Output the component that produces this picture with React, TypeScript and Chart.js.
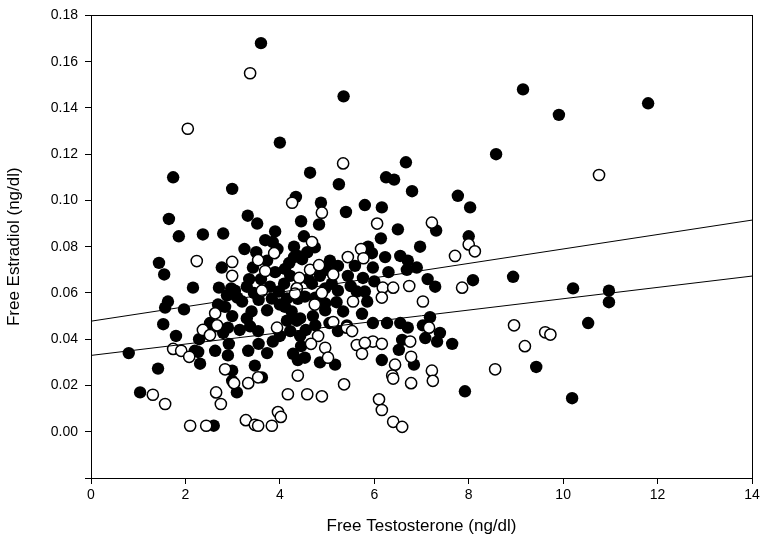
import React, { useEffect, useRef } from "react";
import { Chart, registerables } from "chart.js";

Chart.register(...registerables);

// Filled circles: [free testosterone, free estradiol]
const filledPoints: [number, number][] = [
  [3.6, 0.168], [5.35, 0.145], [4.0, 0.125], [9.15, 0.148], [9.91, 0.137], [11.8, 0.142],
  [8.58, 0.12], [8.94, 0.067], [10.21, 0.062], [10.97, 0.061], [10.97, 0.056], [10.53, 0.047],
  [9.43, 0.028], [10.19, 0.0145], [7.92, 0.0175],
  [1.74, 0.11], [1.65, 0.092], [1.86, 0.0845], [2.37, 0.0853], [2.8, 0.0857], [2.99, 0.105],
  [1.44, 0.073], [1.55, 0.068], [2.77, 0.071],
  [4.64, 0.112], [5.25, 0.107], [4.34, 0.1015], [4.87, 0.099], [5.4, 0.095], [5.8, 0.098],
  [3.32, 0.0934], [3.52, 0.09], [4.45, 0.091], [4.83, 0.0896], [3.9, 0.0866], [3.69, 0.0828],
  [3.85, 0.082], [4.51, 0.0845], [4.3, 0.08], [4.74, 0.0797], [3.5, 0.0776], [4.38, 0.076],
  [5.06, 0.074], [3.43, 0.071], [4.11, 0.0704],
  [6.67, 0.1165], [6.25, 0.11], [6.42, 0.109], [6.8, 0.104], [7.77, 0.102], [8.03, 0.097],
  [6.16, 0.097], [7.31, 0.087], [6.5, 0.0875], [6.14, 0.0836], [6.97, 0.08], [8.0, 0.0845],
  [5.95, 0.0772], [6.23, 0.0755], [6.55, 0.076], [5.97, 0.071], [6.71, 0.074], [6.69, 0.07],
  [6.9, 0.071], [5.76, 0.0665], [7.13, 0.066], [8.09, 0.0655],
  [2.16, 0.0623], [2.71, 0.0623], [1.63, 0.0563], [1.57, 0.0537], [1.97, 0.0529], [2.69, 0.055],
  [1.53, 0.0465], [1.8, 0.0414], [2.29, 0.04], [0.8, 0.034], [1.42, 0.0273], [1.04, 0.017],
  [2.6, 0.0026], [2.31, 0.0294], [2.27, 0.0345], [2.63, 0.035], [2.52, 0.047], [2.67, 0.0456],
  [2.8, 0.0427],
  [2.99, 0.05], [3.73, 0.0525], [4.11, 0.054], [4.96, 0.0525], [5.34, 0.052], [5.74, 0.051],
  [4.7, 0.05], [3.37, 0.0456], [3.54, 0.0435], [4.15, 0.048], [4.36, 0.048], [4.22, 0.0435],
  [4.43, 0.0414], [4.0, 0.0414], [5.23, 0.0435], [2.9, 0.045], [2.92, 0.038], [2.9, 0.033],
  [3.33, 0.035], [3.73, 0.034], [4.28, 0.0337], [4.53, 0.032], [4.38, 0.031], [4.85, 0.03],
  [5.17, 0.029], [3.47, 0.0286], [2.99, 0.0264], [3.62, 0.0235], [3.09, 0.017], [2.99, 0.022],
  [7.29, 0.0627], [5.8, 0.0606], [5.85, 0.0563], [5.97, 0.047], [6.27, 0.047], [6.55, 0.047],
  [6.71, 0.045], [7.18, 0.0495], [7.03, 0.046], [7.39, 0.0427], [7.08, 0.0405], [7.33, 0.039],
  [7.65, 0.038], [6.59, 0.0397], [6.52, 0.0354], [6.16, 0.031], [6.84, 0.029],
  [3.73, 0.074], [4.3, 0.0755], [4.22, 0.0674], [4.09, 0.064], [3.05, 0.061], [3.3, 0.0627],
  [3.45, 0.06], [3.79, 0.0627], [3.98, 0.0606], [4.15, 0.0576], [2.88, 0.059], [3.2, 0.0563],
  [3.83, 0.0576], [2.84, 0.054], [3.3, 0.049],
  [4.58, 0.0776], [5.87, 0.08], [5.23, 0.0717], [5.59, 0.0717], [4.47, 0.0746], [5.44, 0.0674],
  [4.85, 0.0674], [4.68, 0.064], [5.1, 0.064], [4.96, 0.062], [5.23, 0.061], [4.36, 0.062],
  [5.63, 0.0606], [4.53, 0.0584], [4.96, 0.0555], [4.38, 0.0575], [4.43, 0.049], [5.42, 0.046],
  [2.97, 0.062], [2.2, 0.035],
  [3.6, 0.066], [3.9, 0.069], [4.0, 0.055], [4.25, 0.052], [3.55, 0.057], [4.6, 0.066],
  [4.75, 0.058], [5.0, 0.07], [3.35, 0.066], [3.1, 0.058], [3.15, 0.044], [3.4, 0.052],
  [4.55, 0.044], [4.75, 0.046], [5.05, 0.047], [4.2, 0.073], [3.95, 0.079], [3.25, 0.079],
  [5.2, 0.056], [5.5, 0.063], [3.85, 0.039], [4.45, 0.037], [3.55, 0.038], [6.0, 0.065],
  [6.3, 0.069],
];

// Open circles: [free testosterone, free estradiol]
const openPoints: [number, number][] = [
  [3.37, 0.155], [2.05, 0.131], [10.76, 0.111], [8.96, 0.046], [9.62, 0.043], [9.73, 0.042],
  [9.19, 0.037], [8.56, 0.027],
  [2.24, 0.0738], [5.34, 0.116], [4.26, 0.099], [4.89, 0.0947], [4.68, 0.082], [3.88, 0.0772],
  [5.72, 0.079], [2.99, 0.0734], [3.54, 0.0742], [5.44, 0.0755], [3.69, 0.0695], [4.64, 0.07],
  [4.83, 0.072], [2.99, 0.0674], [4.41, 0.0665], [5.13, 0.068],
  [6.06, 0.09], [7.22, 0.0904], [8.0, 0.081], [8.13, 0.078], [7.71, 0.076], [5.77, 0.075],
  [2.63, 0.0512], [2.67, 0.046], [2.37, 0.044], [2.52, 0.0418], [1.74, 0.0358], [1.91, 0.035],
  [2.08, 0.0324], [1.31, 0.016], [1.57, 0.012], [2.1, 0.0026], [2.44, 0.0026], [2.84, 0.027],
  [2.65, 0.017], [2.75, 0.012],
  [3.62, 0.061], [4.36, 0.062], [4.89, 0.06], [5.55, 0.0563], [4.74, 0.055], [5.13, 0.0474],
  [3.94, 0.045], [5.42, 0.045], [5.53, 0.0435], [4.81, 0.0414], [4.66, 0.038], [4.96, 0.0363],
  [5.02, 0.032], [5.63, 0.0375], [5.74, 0.0337], [3.03, 0.021], [3.33, 0.021], [3.54, 0.0235],
  [4.38, 0.0243], [4.17, 0.0162], [4.58, 0.0162], [4.89, 0.0153], [5.36, 0.0205], [3.96, 0.0085],
  [4.02, 0.0064], [3.28, 0.005], [3.47, 0.003], [3.54, 0.0026], [3.83, 0.0026],
  [6.74, 0.063], [7.86, 0.0623], [6.18, 0.0623], [6.4, 0.0623], [6.16, 0.058], [7.03, 0.0563],
  [7.16, 0.045], [6.76, 0.039], [5.97, 0.039], [5.8, 0.0384], [6.16, 0.038], [6.78, 0.0324],
  [6.44, 0.029], [7.22, 0.0264], [6.38, 0.0243], [6.4, 0.023], [7.24, 0.022], [6.78, 0.021],
  [6.1, 0.014], [6.16, 0.0094], [6.4, 0.0043], [6.59, 0.0021], [4.32, 0.0597],
];

// Regression lines: [x, y] end points
const upperLine: [number, number][] = [[0, 0.0478], [14, 0.0915]];
const lowerLine: [number, number][] = [[0, 0.033], [14, 0.0673]];

const xTicks = [0, 2, 4, 6, 8, 10, 12, 14];
const yTicks = [-0.02, 0, 0.02, 0.04, 0.06, 0.08, 0.1, 0.12, 0.14, 0.16, 0.18];

const toXY = (arr: [number, number][]) => arr.map(([x, y]) => ({ x, y }));

const FONT = "'Liberation Sans', Arial, sans-serif";

export default function App() {
  const ref = useRef<HTMLCanvasElement>(null);
  useEffect(() => {
    if (!ref.current) return;
    const frame = {
      id: "frame",
      afterDatasetsDraw(chart: any) {
        const { ctx, chartArea: a } = chart;
        ctx.save();
        ctx.strokeStyle = "#000";
        ctx.lineWidth = 1;
        ctx.strokeRect(Math.round(a.left) + 0.5, Math.round(a.top) + 0.5, Math.round(a.right - a.left), Math.round(a.bottom - a.top));
        ctx.restore();
      },
    };
    const chart = new Chart(ref.current, {
      type: "scatter",
      data: {
        datasets: [
          {
            type: "line",
            data: toXY(upperLine),
            borderColor: "#000",
            borderWidth: 1,
            pointRadius: 0,
            fill: false,
          } as any,
          {
            type: "line",
            data: toXY(lowerLine),
            borderColor: "#000",
            borderWidth: 1,
            pointRadius: 0,
            fill: false,
          } as any,
          {
            data: toXY(openPoints),
            backgroundColor: "#fff",
            borderColor: "#000",
            borderWidth: 1.5,
            pointRadius: 5.6,
          },
          {
            data: toXY(filledPoints),
            backgroundColor: "#000",
            borderColor: "#000",
            borderWidth: 0,
            pointRadius: 6.2,
          },
        ],
      },
      options: {
        responsive: false,
        animation: false,
        layout: { padding: { top: 8, right: 11, left: 0, bottom: 0 } },
        plugins: { legend: { display: false }, tooltip: { enabled: false } },
        scales: {
          x: {
            type: "linear",
            min: 0,
            max: 14,
            afterBuildTicks: (s: any) => { s.ticks = xTicks.map((v) => ({ value: v })); },
            afterFit: (s: any) => { s.height = 73; },
            grid: { drawOnChartArea: false, drawTicks: true, tickLength: 6, color: "#000" },
            border: { display: true, color: "#000", width: 1 },
            ticks: { color: "#000", font: { family: FONT, size: 14 }, padding: 3, callback: (v: any) => String(v) },
            title: { display: true, text: "Free Testosterone (ng/dl)", color: "#000", font: { family: FONT, size: 17 }, padding: { top: 4, bottom: 14 } },
          },
          y: {
            type: "linear",
            min: -0.02,
            max: 0.18,
            afterBuildTicks: (s: any) => { s.ticks = yTicks.map((v) => ({ value: v })); },
            afterFit: (s: any) => { s.width = 91; },
            grid: { drawOnChartArea: false, drawTicks: true, tickLength: 6, color: "#000" },
            border: { display: true, color: "#000", width: 1 },
            ticks: {
              color: "#000",
              font: { family: FONT, size: 14 },
              padding: 7,
              callback: (v: any) => (Number(v) < -0.001 ? "" : Number(v).toFixed(2)),
            },
            title: { display: true, text: "Free Estradiol (ng/dl)", color: "#000", font: { family: FONT, size: 17 }, padding: { top: 4, bottom: 4 } },
          },
        },
      },
      plugins: [frame],
    } as any);
    return () => chart.destroy();
  }, []);
  return (
    <div style={{ position: "absolute", left: 0, top: 0, width: 763, height: 551, background: "#fff" }}>
      <canvas ref={ref} width={763} height={551} style={{ width: 763, height: 551 }} />
    </div>
  );
}
